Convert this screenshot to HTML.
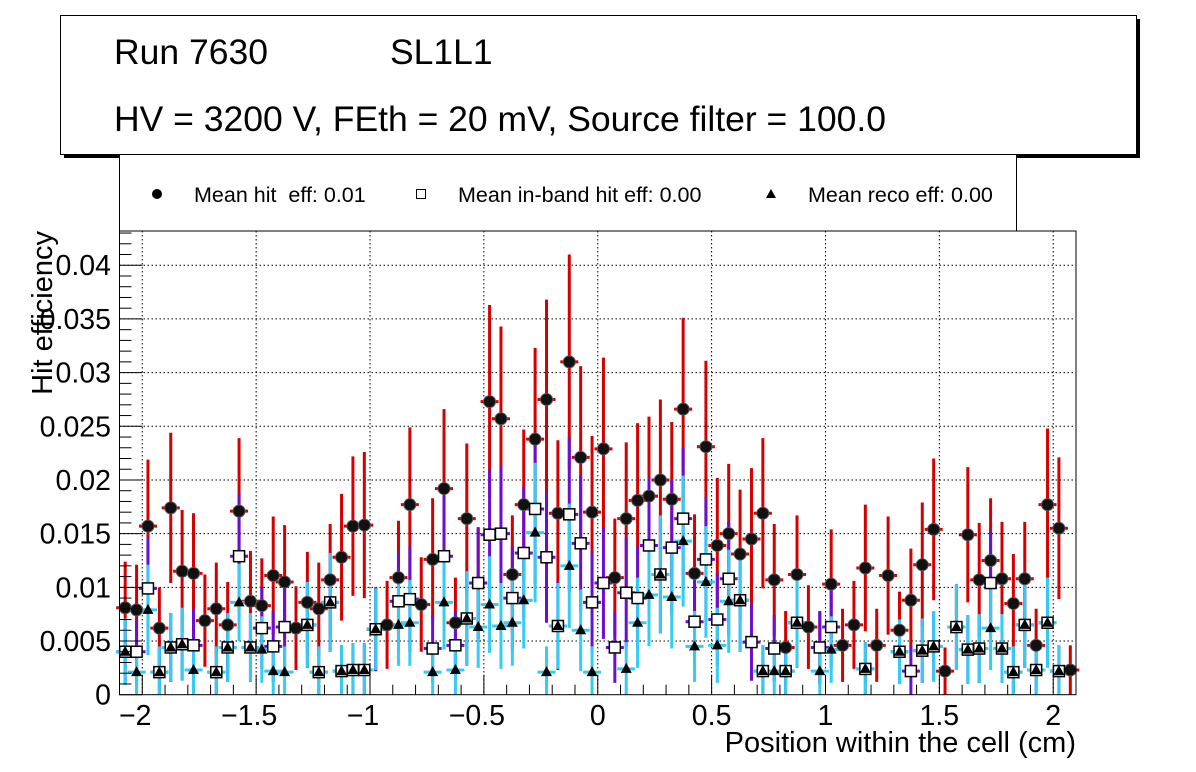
<!DOCTYPE html>
<html><head><meta charset="utf-8"><style>
body{margin:0;background:#fff;width:1196px;height:772px;overflow:hidden}
svg{display:block;font-family:"Liberation Sans",sans-serif}
</style></head><body>
<svg id="chart" width="1196" height="772">
<g>
<rect x="64" y="19" width="1076" height="139" fill="#000"/>
<rect x="60.5" y="15.5" width="1076" height="139" fill="#fff" stroke="#000" stroke-width="1"/>
<text x="114" y="64" font-size="35.5">Run 7630</text>
<text x="390" y="64" font-size="35.5">SL1L1</text>
<text x="114" y="131" font-size="35.5">HV = 3200 V, FEth = 20 mV, Source filter = 100.0</text>
</g>
<g>
<rect x="119.5" y="154.5" width="897" height="77" fill="#fff" stroke="#000"/>
<circle cx="157" cy="194" r="5" fill="#000"/>
<text x="194" y="202" font-size="21.5" xml:space="preserve">Mean hit  eff: 0.01</text>
<rect x="416.5" y="189.5" width="9" height="9" fill="#fff" stroke="#000"/>
<text x="458" y="202" font-size="21.5">Mean in-band hit eff: 0.00</text>
<polygon points="771,189 776,198 766,198" fill="#000"/>
<text x="808" y="202" font-size="21.5">Mean reco eff: 0.00</text>
</g>
<g id="grid"></g><g id="errs"></g><g id="marks"></g><g id="axes"></g>
<text x="1076" y="752" font-size="29" text-anchor="end">Position within the cell (cm)</text>
<text transform="translate(52,231) rotate(-90)" font-size="29" text-anchor="end">Hit efficiency</text>
</svg>
<script>
const hitEff=[.0081,.0079,.0157,.0062,.0174,.0115,.0113,.0069,.0080,.0065,.0171,.0087,.0083,.0111,.0105,.0062,.0086,.0080,.0107,.0128,.0157,.0158,.0061,.0065,.0109,.0177,.0084,.0126,.0192,.0067,.0164,.0104,.0273,.0257,.0112,.0177,.0238,.0275,.0169,.0310,.0221,.0170,.0229,.0109,.0164,.0181,.0185,.0200,.0182,.0266,.0113,.0231,.0139,.0150,.0131,.0145,.0169,.0107,.0044,.0112,.0063,.0044,.0103,.0046,.0065,.0118,.0046,.0111,.0060,.0088,.0121,.0154,.0022,.0063,.0149,.0107,.0125,.0108,.0085,.0108,.0046,.0177,.0155,.0023];
const hitErr=[4.3,4.2,6.2,3.8,7.0,5.7,5.6,4.3,4.3,4.0,6.8,4.7,4.4,5.5,5.3,3.9,4.7,4.3,5.2,5.9,6.5,6.8,3.9,4.1,5.3,7.2,4.4,5.7,7.4,4.2,7.0,5.2,9.0,8.6,5.5,7.0,8.5,9.3,6.8,10.0,8.5,7.1,8.5,5.5,7.1,7.2,7.4,7.5,7.2,8.5,5.5,8.0,6.3,6.5,6.0,6.6,7.0,5.2,3.4,5.5,3.9,3.4,5.1,3.4,4.1,5.9,3.4,5.5,3.6,4.8,5.8,6.6,2.2,3.9,6.3,5.3,5.8,5.3,4.6,5.3,3.4,7.1,6.6,2.3];
const bandEff=[.0040,.0040,.0099,.0021,.0044,.0047,.0046,null,.0021,.0044,.0129,.0044,.0062,.0045,.0063,null,.0065,.0021,.0086,.0022,.0023,.0023,.0061,null,.0087,.0089,null,.0043,.0129,.0046,.0071,.0104,.0149,.0150,.0090,.0132,.0173,.0128,.0064,.0168,.0141,.0086,.0104,.0044,.0095,.0090,.0139,.0112,.0137,.0164,.0068,.0126,.0070,.0108,.0088,.0049,.0022,.0043,.0022,.0067,null,.0044,.0063,null,null,.0024,null,null,.0040,.0022,.0041,.0045,null,.0063,.0042,.0043,.0104,.0043,.0021,.0065,.0023,.0067,.0022,null];
const bandErr=[3.0,3.0,4.7,2.4,3.2,3.3,3.4,0,2.4,3.2,5.8,3.2,3.8,3.3,3.9,0,4.0,2.4,4.6,2.4,2.5,2.5,3.9,0,4.7,4.9,0,3.1,5.8,3.2,4.4,5.2,6.1,6.3,4.8,6.1,7.0,6.1,4.1,7.2,6.3,4.8,5.2,3.3,5.1,4.8,6.3,5.5,6.3,6.6,4.2,5.8,4.3,5.3,4.8,3.6,2.4,3.1,2.4,4.2,0,3.3,3.8,0,0,2.5,0,0,3.0,2.4,3.0,3.2,0,4.0,3.2,3.2,5.0,3.2,2.4,4.0,2.5,4.1,2.4,0];
const recoEff=[.0040,.0021,.0079,.0021,.0044,.0047,.0023,null,.0021,.0044,.0086,.0044,.0042,.0022,.0021,null,.0065,.0021,.0086,.0022,.0023,.0023,.0061,null,.0065,.0067,null,.0021,.0086,.0023,.0071,.0063,.0084,.0064,.0067,.0088,.0151,.0021,.0064,.0120,.0060,.0021,null,null,.0024,.0067,.0093,.0112,.0091,.0143,.0045,.0105,.0046,.0087,.0088,null,.0022,.0022,.0022,.0067,null,.0022,.0042,null,null,.0024,null,null,.0040,null,.0041,.0045,null,.0063,.0042,.0043,.0062,.0043,.0021,.0065,.0023,.0067,.0022,null];
const recoErr=[3.1,2.5,4.2,2.4,3.2,3.4,2.4,0,2.4,3.2,3.6,3.2,3.1,2.4,2.4,0,4.0,2.4,4.6,2.4,2.5,2.5,3.8,0,3.8,4.0,0,2.4,4.4,2.4,4.4,3.8,4.5,4.0,4.0,4.5,6.5,2.4,4.0,5.8,3.8,2.4,0,0,2.5,4.2,4.8,5.5,4.8,6.1,3.3,5.2,3.5,4.8,4.8,0,2.4,2.4,2.4,4.2,0,2.4,3.1,0,0,2.5,0,0,3.0,0,3.0,3.3,0,4.0,3.2,3.2,3.9,3.2,2.4,4.0,2.5,4.2,2.4,0];
const xTickLabels=["−2","−1.5","−1","−0.5","0","0.5","1","1.5","2"];
const xTickValues=[-2,-1.5,-1,-0.5,0,0.5,1,1.5,2];
const yTickLabels=["0","0.005","0.01","0.015","0.02","0.025","0.03","0.035","0.04"];
const yTickValues=[0,.005,.01,.015,.02,.025,.03,.035,.04];
const binStart=-2.1, binWidth=0.05;

const L=119.5,R=1076,T=231,B=694.7,XMIN=-2.1,XMAX=2.1,YMAX=0.04319;
const X=v=>L+(v-XMIN)/(XMAX-XMIN)*(R-L);
const Y=v=>B-v/YMAX*(B-T);
const NS="http://www.w3.org/2000/svg";
function mk(p,tag,attrs){const e=document.createElementNS(NS,tag);for(const k in attrs)e.setAttribute(k,attrs[k]);p.appendChild(e);return e;}
const grid=document.getElementById('grid'),errs=document.getElementById('errs'),marks=document.getElementById('marks'),axes=document.getElementById('axes');
mk(grid,'rect',{x:L,y:T,width:R-L,height:B-T,fill:'#fff'});
xTickValues.forEach((v,i)=>{
  const g=mk(grid,'line',{x1:X(v),x2:X(v),y1:T,y2:B,stroke:'#000','stroke-dasharray':'1.5,2.5','stroke-width':1});
  
  
  const t=mk(axes,'text',{x:X(v)-(v<0?7:0),y:725,'font-size':28.5,'text-anchor':'middle'});
  t.textContent=xTickLabels[i];
  
  
});
yTickValues.forEach((v,i)=>{
  if(v>0){const g=mk(grid,'line',{x1:L,x2:R,y1:Y(v),y2:Y(v),stroke:'#000','stroke-dasharray':'1.5,2.5','stroke-width':1});
  
  }
  const t=mk(axes,'text',{x:111,y:Y(v)+10,'font-size':28.5,'text-anchor':'end'});
  t.textContent=yTickLabels[i];
  
  
});
for(let k=-21;k<=21;k++){const v=k/10;if(v<XMIN-1e-9||v>XMAX+1e-9)continue;const maj=Math.abs(k%5)===0;
  mk(axes,'line',{x1:X(v),x2:X(v),y1:B,y2:B-(maj?20:10),stroke:'#000','stroke-width':1});}
for(let k=0;k<=43;k++){const v=k/1000;if(v>YMAX)continue;const maj=k%5===0;
  mk(axes,'line',{x1:L,x2:L+(maj?23:12),y1:Y(v),y2:Y(v),stroke:'#000','stroke-width':1});}
const frame=mk(axes,'rect',{x:L,y:T,width:R-L,height:B-T,fill:'none',stroke:'#000','stroke-width':1});



function drawSeries(vals,errsArr,color,name){
  vals.forEach((v,i)=>{
    if(v===null)return;
    const cx=X(binStart+binWidth*(i+0.5)),e=errsArr[i]/1000;
    const top=Math.max(Y(v+e),T),bot=Math.min(Y(Math.max(v-e,0)),B);
    const l=mk(errs,'line',{x1:cx,x2:cx,y1:top,y2:bot,stroke:color,'stroke-width':3});
    
    
    mk(errs,'line',{x1:cx-9,x2:cx+9,y1:Y(v),y2:Y(v),stroke:color,'stroke-width':3});
  });
}
drawSeries(hitEff,hitErr,'#d40000','hit');
drawSeries(bandEff,bandErr,'#6a0fd0','inband');
drawSeries(recoEff,recoErr,'#33ccf5','reco');
hitEff.forEach((v,i)=>{if(v===null)return;const cx=X(binStart+binWidth*(i+0.5));
  const c=mk(marks,'circle',{cx:cx,cy:Y(v),r:6,fill:'#111',stroke:'#555','stroke-width':1});
  
  });
bandEff.forEach((v,i)=>{if(v===null)return;const cx=X(binStart+binWidth*(i+0.5));
  const s=mk(marks,'rect',{x:cx-5.5,y:Y(v)-5.5,width:11,height:11,fill:'#fff',stroke:'#000','stroke-width':1.5});
  
  });
recoEff.forEach((v,i)=>{if(v===null)return;const cx=X(binStart+binWidth*(i+0.5)),cy=Y(v);
  const p=mk(marks,'polygon',{points:`${cx},${cy-6} ${cx+5.5},${cy+4} ${cx-5.5},${cy+4}`,fill:'#000'});
  
  });
</script>
</body></html>
